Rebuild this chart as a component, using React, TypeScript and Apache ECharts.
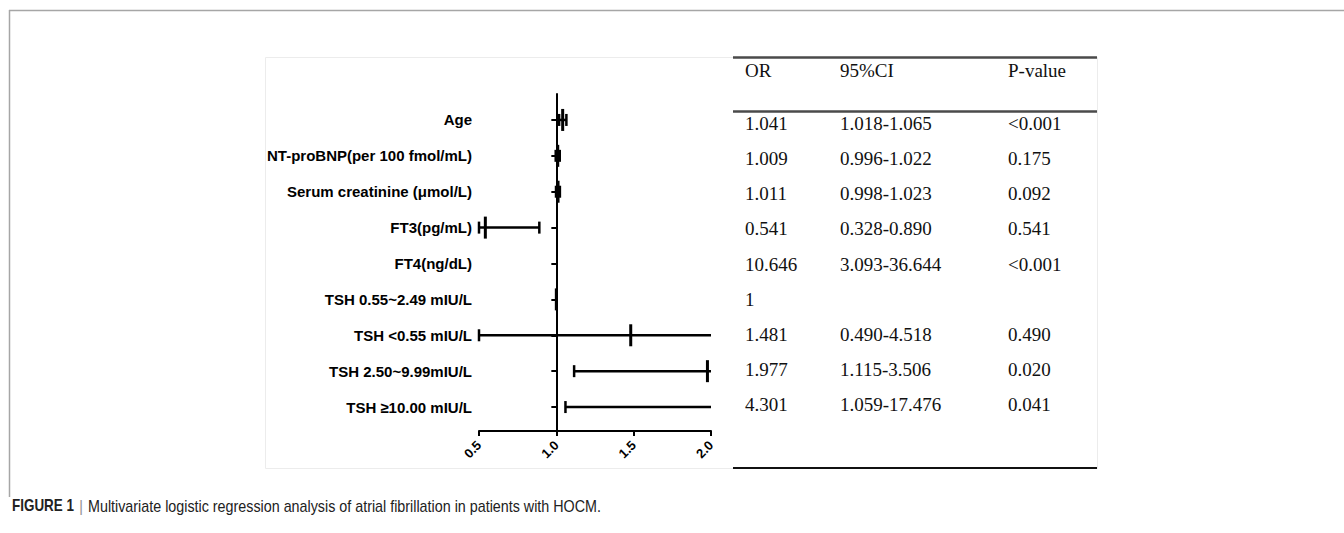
import React, { useEffect, useRef } from 'react';
import * as echarts from 'echarts';

// ---- data ----
const categories = [
  'Age',
  'NT-proBNP(per 100 fmol/mL)',
  'Serum creatinine (μmol/L)',
  'FT3(pg/mL)',
  'FT4(ng/dL)',
  'TSH 0.55~2.49 mIU/L',
  'TSH <0.55 mIU/L',
  'TSH 2.50~9.99mIU/L',
  'TSH ≥10.00 mIU/L',
];
const orValues = [1.041, 1.009, 1.011, 0.541, 10.646, 1, 1.481, 1.977, 4.301];
const ciLow: (number | null)[] = [1.018, 0.996, 0.998, 0.328, 3.093, null, 0.49, 1.115, 1.059];
const ciHigh: (number | null)[] = [1.065, 1.022, 1.023, 0.89, 36.644, null, 4.518, 3.506, 17.476];
const pValues = ['<0.001', '0.175', '0.092', '0.541', '<0.001', '', '0.490', '0.020', '0.041'];
const xTicks = [0.5, 1.0, 1.5, 2.0];
const tableHeaders = ['OR', '95%CI', 'P-value'];
const captionLead = 'FIGURE 1';
const captionText = 'Multivariate logistic regression analysis of atrial fibrillation in patients with HOCM.';

const orText = orValues.map((v) => (v === 1 ? '1' : v.toFixed(3)));
const ciText = ciLow.map((lo, i) =>
  lo == null || ciHigh[i] == null ? '' : `${lo.toFixed(3)}-${(ciHigh[i] as number).toFixed(3)}`
);

const XMIN = xTicks[0];
const XMAX = xTicks[xTicks.length - 1];
const XINT = xTicks[1] - xTicks[0];

const PLOT_LEFT = 479;
const PLOT_WIDTH = 232;
const REF_OFFSET = -((1 - XMIN) * PLOT_WIDTH) / (XMAX - XMIN);

const LABEL_FONT = '"Liberation Sans", Arial, Helvetica, sans-serif';
const SERIF = '"Liberation Serif", "Times New Roman", serif';

export default function App() {
  const ref = useRef<HTMLDivElement>(null);

  useEffect(() => {
    if (!ref.current) return;
    const chart = echarts.init(ref.current, undefined, { renderer: 'svg' });

    const tableCols = [
      { left: 745, texts: orText },
      { left: 840, texts: ciText },
      { left: 1008, texts: pValues },
    ];
    const tableGridTop = 106;
    const tableGridHeight = 316;

    const grids: any[] = [
      { left: PLOT_LEFT, width: PLOT_WIDTH, top: 102, height: 323, outerBoundsMode: 'none' },
      { left: PLOT_LEFT, width: PLOT_WIDTH, top: 94, height: 337, outerBoundsMode: 'none' },
      ...tableCols.map((c) => ({ left: c.left, width: 10, top: tableGridTop, height: tableGridHeight, outerBoundsMode: 'none' })),
    ];

    const hiddenX = (gridIndex: number) => ({
      type: 'value',
      gridIndex,
      min: XMIN,
      max: XMAX,
      interval: XINT,
      show: false,
    });

    const xAxes: any[] = [
      hiddenX(0),
      {
        type: 'value',
        gridIndex: 1,
        min: XMIN,
        max: XMAX,
        interval: XINT,
        axisLine: { show: true, onZero: false, lineStyle: { color: '#000', width: 2 } },
        axisTick: { show: true, length: 5, lineStyle: { color: '#000', width: 2 } },
        splitLine: { show: false },
        axisLabel: {
          rotate: 45,
          margin: 12,
          fontSize: 13,
          fontWeight: 'bold',
          fontFamily: LABEL_FONT,
          color: '#000',
          formatter: (v: number) => v.toFixed(1),
        },
      },
      ...tableCols.map((_, k) => ({ type: 'value', gridIndex: 2 + k, show: false })),
    ];

    const yAxes: any[] = [
      {
        type: 'category',
        gridIndex: 0,
        data: categories,
        inverse: true,
        position: 'left',
        axisLine: { show: false },
        axisTick: { show: false },
        splitLine: { show: false },
        axisLabel: {
          interval: 0,
          margin: 7,
          fontSize: 15,
          fontWeight: 'bold',
          fontFamily: LABEL_FONT,
          color: '#000',
        },
      },
      {
        type: 'category',
        gridIndex: 0,
        data: categories,
        inverse: true,
        position: 'left',
        offset: REF_OFFSET,
        axisLine: { show: false },
        axisTick: { show: true, alignWithLabel: true, length: 5, lineStyle: { color: '#000', width: 2 } },
        axisLabel: { show: false },
        splitLine: { show: false },
      },
      {
        type: 'value',
        gridIndex: 1,
        min: 0,
        max: 1,
        position: 'left',
        offset: REF_OFFSET,
        axisLine: { show: true, onZero: false, lineStyle: { color: '#000', width: 2 } },
        axisTick: { show: false },
        axisLabel: { show: false },
        splitLine: { show: false },
      },
      ...tableCols.map((c, k) => ({
        type: 'category',
        gridIndex: 2 + k,
        data: categories,
        inverse: true,
        position: 'left',
        axisLine: { show: false },
        axisTick: { show: false },
        splitLine: { show: false },
        axisLabel: {
          interval: 0,
          margin: 0,
          align: 'left',
          fontSize: 19,
          fontFamily: SERIF,
          color: '#111',
          formatter: (_v: string, i: number) => c.texts[i],
        },
      })),
    ];

    const cap = (x: number, y: number, half: number, w: number) => ({
      type: 'line',
      shape: { x1: x, y1: y - half, x2: x, y2: y + half },
      style: { stroke: '#000', lineWidth: w },
    });

    const series: any[] = [
      {
        type: 'custom',
        xAxisIndex: 0,
        yAxisIndex: 0,
        clip: false,
        data: categories.map((_, i) => [orValues[i], i]),
        encode: { x: 0, y: 1 },
        renderItem: (params: any, api: any) => {
          const i = params.dataIndex;
          const or = orValues[i];
          const lo = ciLow[i];
          const hi = ciHigh[i];
          const children: any[] = [];
          const yc = api.coord([XMIN, i])[1];
          if (lo != null && hi != null) {
            const a = Math.max(lo, XMIN);
            const b = Math.min(hi, XMAX);
            if (a < b) {
              const xa = api.coord([a, i])[0];
              const xb = api.coord([b, i])[0];
              children.push({
                type: 'line',
                shape: { x1: xa, y1: yc, x2: xb, y2: yc },
                style: { stroke: '#000', lineWidth: 2.5 },
              });
              children.push(cap(xa, yc, 6, 2.5));
              if (hi <= XMAX) children.push(cap(xb, yc, 6, 2.5));
            }
          }
          if (or >= XMIN && or <= XMAX) {
            const xo = api.coord([or, i])[0];
            children.push(cap(xo, yc, 11, 3));
          }
          return { type: 'group', children };
        },
      },
    ];

    const CAPTION_FONT = '"Liberation Sans", Arial, Helvetica, sans-serif';

    const graphic: any[] = [
      // outer frame (top and left)
      { type: 'line', shape: { x1: 9, y1: 10.5, x2: 1344, y2: 10.5 }, style: { stroke: '#a6a6a6', lineWidth: 1.5 } },
      { type: 'line', shape: { x1: 9.5, y1: 10, x2: 9.5, y2: 497 }, style: { stroke: '#a6a6a6', lineWidth: 1.5 } },
      // light frame of the figure image
      { type: 'rect', shape: { x: 265.5, y: 57.5, width: 832, height: 411 }, style: { fill: 'none', stroke: '#ececec', lineWidth: 1 } },
      // table rules
      { type: 'line', shape: { x1: 733, y1: 57.5, x2: 1097, y2: 57.5 }, style: { stroke: '#4a4a4a', lineWidth: 2.5 } },
      { type: 'line', shape: { x1: 733, y1: 111.5, x2: 1097, y2: 111.5 }, style: { stroke: '#4a4a4a', lineWidth: 2.5 } },
      { type: 'line', shape: { x1: 733, y1: 468, x2: 1097, y2: 468 }, style: { stroke: '#111', lineWidth: 2 } },
      // table headers
      ...tableHeaders.map((t, k) => ({
        type: 'text',
        x: tableCols[k].left,
        y: 70,
        style: { text: t, fontSize: 19, fontFamily: SERIF, fill: '#111', align: 'left', verticalAlign: 'middle' },
      })),
      // caption
      {
        type: 'text',
        x: 12,
        y: 506,
        scaleX: 0.84,
        style: {
          text: captionLead,
          fontSize: 16,
          fontWeight: 'bold',
          fontFamily: CAPTION_FONT,
          fill: '#222',
          align: 'left',
          verticalAlign: 'middle',
        },
      },
      {
        type: 'text',
        x: 79,
        y: 506,
        style: { text: '|', fontSize: 16, fontFamily: CAPTION_FONT, fill: '#999', align: 'left', verticalAlign: 'middle' },
      },
      {
        type: 'text',
        x: 88,
        y: 506,
        scaleX: 0.895,
        style: {
          text: captionText,
          fontSize: 16,
          fontFamily: CAPTION_FONT,
          fill: '#222',
          align: 'left',
          verticalAlign: 'middle',
        },
      },
    ];

    chart.setOption({
      animation: false,
      backgroundColor: '#fff',
      grid: grids,
      xAxis: xAxes,
      yAxis: yAxes,
      series,
      graphic,
    });

    return () => chart.dispose();
  }, []);

  return (
    <div
      ref={ref}
      style={{ position: 'fixed', left: 0, top: 0, width: 1344, height: 533, background: '#fff' }}
    />
  );
}
